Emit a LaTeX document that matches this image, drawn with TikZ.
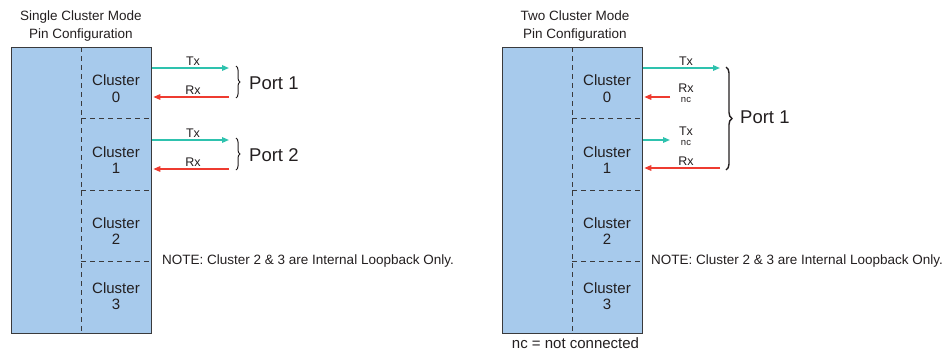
\documentclass[tikz,border=0pt]{standalone}
\usepackage{fontspec}
\setmainfont{Liberation Sans}
\usetikzlibrary{arrows.meta,decorations.pathreplacing}
\definecolor{chipblue}{HTML}{A7CAEC}
\definecolor{edgegray}{HTML}{3A3A3C}
\definecolor{inkgray}{HTML}{231F20}
\definecolor{txteal}{HTML}{2EC2AE}
\definecolor{rxred}{HTML}{EE3B30}
\begin{document}
\begin{tikzpicture}[x=1pt,y=-1pt,
  chip/.style={draw=edgegray, fill=chipblue, line width=0.8pt, inner sep=0pt,
    minimum width=140pt, minimum height=286pt, anchor=north west},
  divider/.style={draw=edgegray, line width=0.7pt, dash pattern=on 5pt off 4pt},
  cluster/.style={align=center, text=inkgray, inner sep=0pt,
    font=\fontsize{15}{16.5}\selectfont},
  title/.style={align=center, text=inkgray, inner sep=0pt,
    font=\fontsize{13.5}{17.5}\selectfont},
  note/.style={anchor=west, text=inkgray, inner sep=0pt,
    font=\fontsize{13.5}{16}\selectfont},
  sig/.style={text=inkgray, inner sep=0pt, font=\fontsize{12.5}{12.5}\selectfont},
  ncmark/.style={text=inkgray, inner sep=0pt, font=\fontsize{9.5}{10}\selectfont},
  port/.style={anchor=west, text=inkgray, inner sep=0pt,
    font=\fontsize{18.5}{20}\selectfont},
  txline/.style={draw=txteal, line width=1.5pt, -{Triangle[length=7pt,width=5.5pt]}},
  rxline/.style={draw=rxred, line width=1.5pt, -{Triangle[length=7pt,width=5.5pt]}},
  portbrace/.style={draw=inkgray, line width=1pt,
    decorate, decoration={brace, amplitude=#1}},
]
\useasboundingbox (0,0) rectangle (946,351);

% ---------------- Single cluster mode ----------------
\node[title] (titleA) at (81,26) {Single Cluster Mode\\Pin Configuration};
\node[chip] (chipA) at (11,47) {};
\draw[divider] (81,47) -- (81,333);
\draw[divider] (81,118) -- (151,118);
\draw[divider] (81,190) -- (151,190);
\draw[divider] (81,261) -- (151,261);
\node[cluster] (a0) at (116,88.5) {Cluster\\0};
\node[cluster] (a1) at (116,160) {Cluster\\1};
\node[cluster] (a2) at (116,231) {Cluster\\2};
\node[cluster] (a3) at (116,296) {Cluster\\3};

\coordinate (aTx0) at (229,68);
\coordinate (aRx0) at (229,97);
\coordinate (aTx1) at (229,140);
\coordinate (aRx1) at (229,169);
\draw[txline] (aTx0 -| chipA.east) -- (aTx0);
\draw[rxline] (aRx0) -- ([xshift=1.5pt]aRx0 -| chipA.east);
\draw[txline] (aTx1 -| chipA.east) -- (aTx1);
\draw[rxline] (aRx1) -- ([xshift=1.5pt]aRx1 -| chipA.east);
\node[sig] (aTx0l) at (193,61) {Tx};
\node[sig] (aRx0l) at (193,90) {Rx};
\node[sig] (aTx1l) at (193,133) {Tx};
\node[sig] (aRx1l) at (193,162) {Rx};

\draw[portbrace=4pt] (236,66) -- (236,98);
\node[port] (portA1) at (249,83) {Port 1};
\draw[portbrace=4pt] (236,138) -- (236,170);
\node[port] (portA2) at (249,155) {Port 2};

\node[note] (noteA) at (162,261) {NOTE: Cluster 2 \& 3 are Internal Loopback Only.};

% ---------------- Two cluster mode ----------------
\node[title] (titleB) at (575,26) {Two Cluster Mode\\Pin Configuration};
\node[chip] (chipB) at (502,47) {};
\draw[divider] (572,47) -- (572,333);
\draw[divider] (572,118) -- (642,118);
\draw[divider] (572,190) -- (642,190);
\draw[divider] (572,261) -- (642,261);
\node[cluster] (b0) at (607,88.5) {Cluster\\0};
\node[cluster] (b1) at (607,160) {Cluster\\1};
\node[cluster] (b2) at (607,231) {Cluster\\2};
\node[cluster] (b3) at (607,296) {Cluster\\3};

\coordinate (bTx0) at (720,68);
\coordinate (bRx0) at (670,97);
\coordinate (bTx1) at (670,140);
\coordinate (bRx1) at (720,168);
\draw[txline] (bTx0 -| chipB.east) -- (bTx0);
\draw[rxline] (bRx0) -- ([xshift=1.5pt]bRx0 -| chipB.east);
\draw[txline] (bTx1 -| chipB.east) -- (bTx1);
\draw[rxline] (bRx1) -- ([xshift=1.5pt]bRx1 -| chipB.east);
\node[sig] (bTx0l) at (686,61) {Tx};
\node[sig] (bRx0l) at (686,88) {Rx};
\node[ncmark] (bRx0nc) at (686,100) {nc};
\node[sig] (bTx1l) at (686,131) {Tx};
\node[ncmark] (bTx1nc) at (686,143) {nc};
\node[sig] (bRx1l) at (686,161) {Rx};

\draw[portbrace=6pt, line width=1.4pt] (726,67) -- (726,170);
\node[port] (portB1) at (740,117) {Port 1};

\node[note] (noteB) at (651,261) {NOTE: Cluster 2 \& 3 are Internal Loopback Only.};
\node[title, font=\fontsize{15}{16}\selectfont] (ncnote) at (575.5,343) {nc = not connected};
\end{tikzpicture}
\end{document}
